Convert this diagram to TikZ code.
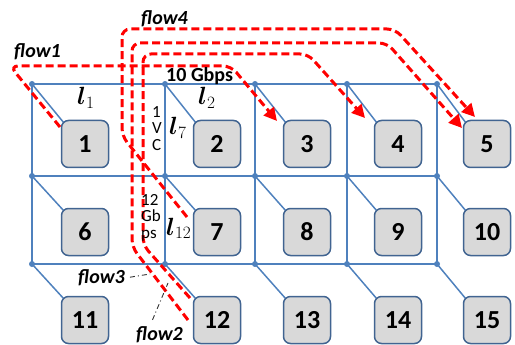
\documentclass[tikz,border=0pt]{standalone}
\usepackage{amsmath}
\usepackage{fontspec}
\setmainfont{Carlito}
\usetikzlibrary{arrows.meta}
\definecolor{gridblue}{RGB}{79,129,189}
\definecolor{boxborder}{RGB}{65,100,145}
\definecolor{boxfill}{RGB}{217,217,217}
\begin{document}
\begin{tikzpicture}[x=1pt,y=-1pt,
  gridline/.style={draw=gridblue, line width=1.5pt},
  gdot/.style={circle, fill=gridblue, inner sep=0pt, minimum size=6pt},
  router/.style={draw=boxborder, fill=boxfill, line width=1.5pt, rounded corners=7pt,
    minimum width=47pt, minimum height=47pt, inner sep=0pt,
    font=\fontsize{26}{26}\selectfont\bfseries},
  flowpath/.style={draw=red, line width=3pt, dash pattern=on 8pt off 4pt, rounded corners=8pt},
  flowarrow/.style={flowpath, -{Triangle[length=13pt,width=13pt]}},
  flowlabel/.style={font=\fontsize{20}{20}\selectfont\bfseries\itshape, inner sep=0pt, anchor=base west},
  linklabel/.style={font=\fontsize{24}{24}\selectfont, inner sep=0pt, anchor=base west},
  smalltxt/.style={font=\fontsize{17}{16.5}\selectfont, inner sep=0pt, anchor=north west, align=left},
  pointer/.style={draw=black!80, line width=0.9pt, dash pattern=on 5pt off 3pt on 1pt off 3pt}
]
\useasboundingbox (0,0) rectangle (515,345);

% grid dots
\foreach \c/\x in {1/32,2/165,3/255,4/347,5/437}{
  \foreach \r/\y in {1/84,2/176,3/264}{
    \node[gdot] (g\c\r) at (\x,\y) {};
  }
}
% grid lines
\foreach \r in {1,2,3}{
  \draw[gridline] (g1\r.center) -- (g5\r.center);
}
\foreach \c in {1,...,5}{
  \draw[gridline] (g\c1.center) -- (g\c3.center);
}

% router positions
\foreach \c/\x in {1/85,2/217,3/307,4/398,5/487}{
  \foreach \r/\y in {1/144,2/232,3/320}{
    \pgfmathtruncatemacro{\k}{(\r-1)*5+\c}
    \coordinate (p\k) at (\x,\y);
  }
}
% diagonal access links
\foreach \c in {1,...,5}{
  \foreach \r in {1,2,3}{
    \pgfmathtruncatemacro{\k}{(\r-1)*5+\c}
    \draw[gridline] (g\c\r.center) -- ([shift={(-21,-21)}]p\k);
  }
}

% red flows
\coordinate (f1s) at (60,127);
\coordinate (f1e) at (277,121);
\draw[flowarrow] (f1s) -- (10,66) -- (231,66) -- (f1e);

\coordinate (f4s) at (187,217);
\coordinate (f4e) at (475,117);
\draw[flowarrow] (f4s) -- (122,136) -- (122,29) -- (395,29) -- (f4e);

\coordinate (f2s) at (188,320);
\coordinate (f2e) at (462,128);
\draw[flowarrow] (f2s) -- (132,247) -- (132,43) -- (387,43) -- (f2e);

\coordinate (f3s) at (190,298);
\coordinate (f3e) at (365,118);
\draw[flowarrow] (f3s) -- (143,245) -- (143,54) -- (308,54) -- (f3e);

% router boxes
\foreach \k in {1,...,15}{
  \node[router] (n\k) at (p\k) {\k};
}

% labels
\node[flowlabel] (lf1) at (14,58) {flow1};
\node[flowlabel] (lf4) at (141,25) {flow4};
\node[flowlabel] (lf3) at (78,283) {flow3};
\node[flowlabel] (lf2) at (136,340) {flow2};

\node[font=\fontsize{20}{20}\selectfont\bfseries, inner sep=0pt, anchor=base west] (bw) at (166,82) {10 Gbps};

\node[linklabel] (l1) at (77,105) {$\boldsymbol{l}_1$};
\node[linklabel] (l2) at (198,105) {$\boldsymbol{l}_2$};
\node[linklabel] (l7) at (169,135) {$\boldsymbol{l}_7$};
\node[linklabel] (l12) at (166,235) {$\boldsymbol{l}_{12}$};

\node[smalltxt] (vc) at (152,106) {1\\V\\C};
\node[smalltxt] (gb) at (141,194) {12\\Gb\\ps};

% pointers
\coordinate (pt3) at (150,274);
\coordinate (pt2) at (168,283);
\draw[pointer] ([xshift=5pt]lf3.east) -- (pt3);
\draw[pointer] ([shift={(-7,-6)}]lf2.north) -- (pt2);
\end{tikzpicture}
\end{document}
